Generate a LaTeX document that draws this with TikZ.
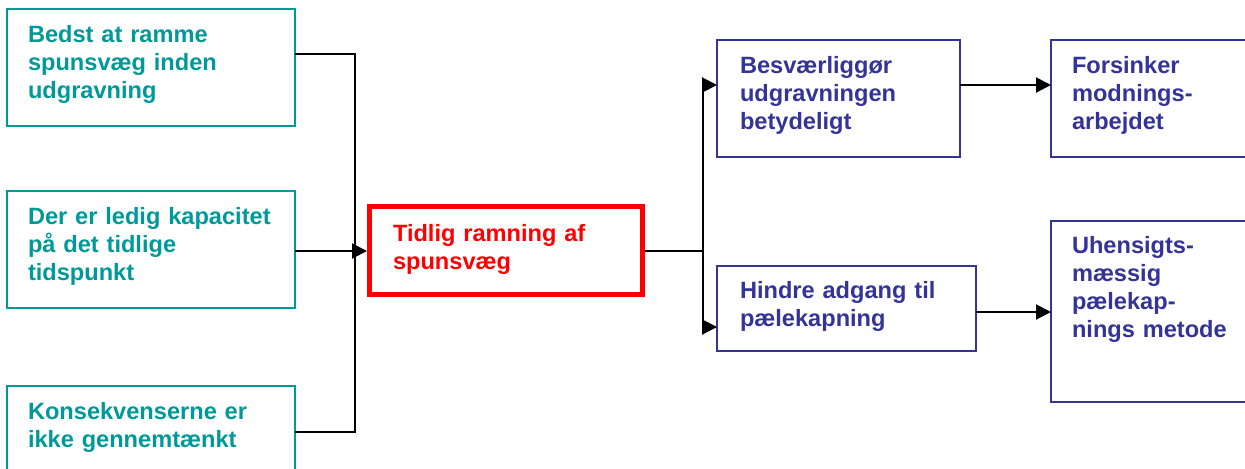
\documentclass[tikz,border=0pt]{standalone}
\usepackage{fontspec}
\setmainfont{Liberation Sans}
\usepackage{xcolor}
\usetikzlibrary{arrows.meta,calc}
\definecolor{causeteal}{RGB}{0,153,153}
\definecolor{effectblue}{RGB}{51,51,153}

\begin{document}
\begin{tikzpicture}[x=0.5pt,y=-0.5pt,>={Triangle[length=7.5pt,width=7.5pt]},
  box/.style={anchor=north west,line width=1pt,outer sep=0pt,inner xsep=10.5pt,inner ysep=0pt,align=left,font=\bfseries\fontsize{11.8}{14}\selectfont},
  cause/.style={box,draw=causeteal,text=causeteal,text width=123pt,text height=16.5pt,text depth=42pt},
  effect/.style={box,draw=effectblue,text=effectblue,inner xsep=11.5pt},
  event/.style={box,draw=red,text=red,line width=2.5pt,outer sep=1.25pt,inner xsep=11.75pt,text width=113pt,text height=17.25pt,text depth=26.75pt},
  link/.style={line width=1pt}]
\useasboundingbox (0,0) rectangle (1245,468);
% causes
\node[cause] (bedst) at (7,9) {Bedst at ramme\\spunsvæg inden\\udgravning};
\node[cause] (ledig) at (7,191) {\mbox{Der er ledig kapacitet}\\på det tidlige\\tidspunkt};
\node[cause] (konsek) at (7,386) {Konsekvenserne er\\ikke gennemtænkt};
% event
\node[event] (tidlig) at (367,204) {Tidlig ramning af\\spunsvæg};
% effects
\node[effect,text width=98.5pt,text height=16.5pt,text depth=42pt] (besv) at (717,40) {Besværliggør\\udgravningen\\betydeligt};
\node[effect,text width=106.5pt,text height=16pt,text depth=26.5pt] (hindre) at (717,266) {Hindre adgang til\\pælekapning};
\node[effect,inner xsep=10.5pt,text width=111pt,text height=16.5pt,text depth=42pt] (forsink) at (1051,40) {Forsinker\\modnings-\\arbejdet};
\node[effect,inner xsep=10.5pt,text width=111pt,text height=16pt,text depth=74.5pt] (uhens) at (1051,221) {Uhensigts-\\mæssig\\pælekap-\\nings metode};
% joints
\coordinate (lt) at (355,54);
\coordinate (lm) at (355,251);
\coordinate (lb) at (355,432);
\coordinate (rt) at (703,85);
\coordinate (rm) at (703,251);
\coordinate (rb) at (703,327);
% connectors
\draw[link] (bedst.east |- lt) -- (lt) -- (lb) -- (konsek.east |- lb);
\draw[link] (ledig.east |- lm) -- (lm);
\draw[link,->] (lm) -- (tidlig.west |- lm);
\draw[link] (tidlig.east |- rm) -- (rm);
\draw[link] (rt) -- (rb);
\draw[link,->] (rt) -- (besv.west |- rt);
\draw[link,->] (rb) -- (hindre.west |- rb);
\draw[link,->] (besv.east |- rt) -- (forsink.west |- rt);
\draw[link,->] (hindre.east |- 0,312) -- (uhens.west |- 0,312);
\end{tikzpicture}
\end{document}
